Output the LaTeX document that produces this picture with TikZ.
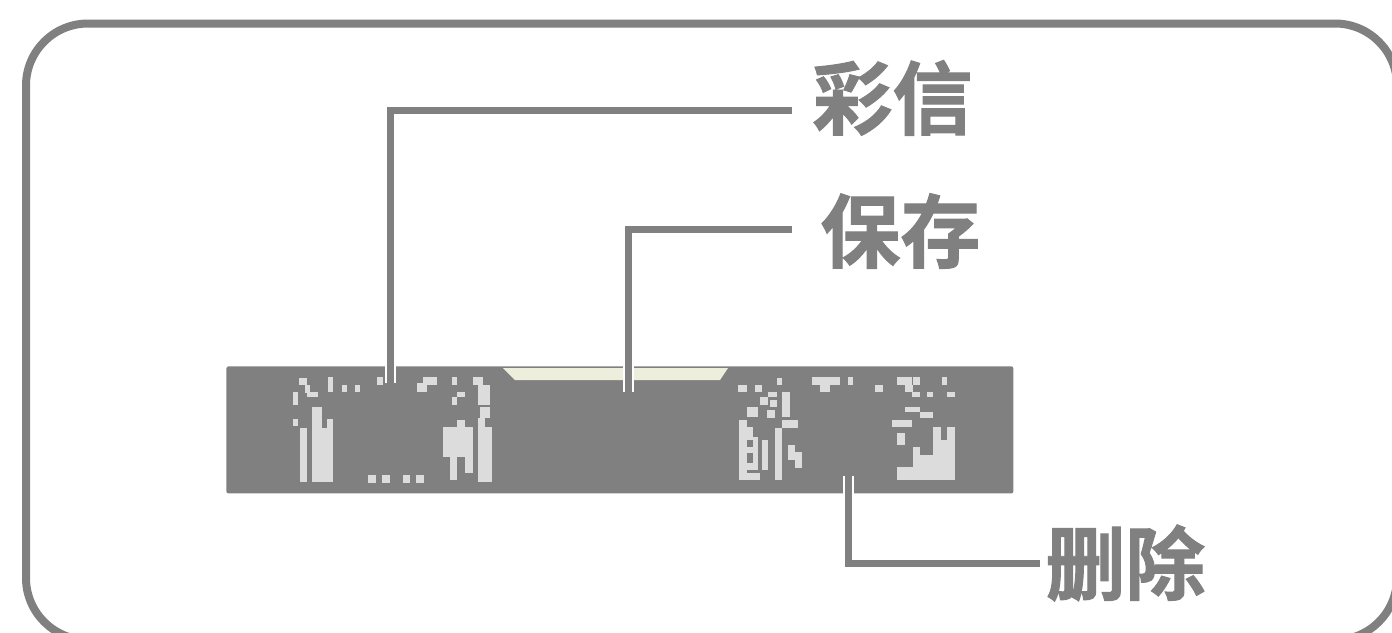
\documentclass[tikz,border=0pt]{standalone}
\usepackage{fontspec}
\newfontfamily\cjk{Noto Sans CJK SC Bold}[FakeBold=1.2]
\definecolor{lgrey}{HTML}{808080}
\definecolor{pixcol}{HTML}{DCDCDC}
\definecolor{tabcol}{HTML}{EEEEDC}
\begin{document}
\begin{tikzpicture}[x=0.5pt,y=-0.5pt,
  frame/.style={draw=lgrey,line width=4pt,rounded corners=31pt},
  screen/.style={fill=lgrey,draw=none,rounded corners=1pt},
  pix/.style={fill=pixcol,draw=none},
  halo/.style={draw=white,line width=5.5pt},
  conn/.style={draw=lgrey,line width=3.5pt},
  label/.style={font=\cjk\fontsize{40pt}{40pt}\selectfont,text=lgrey,inner sep=0pt,anchor=west}]
\useasboundingbox (0,0) rectangle (1392,632);
\begin{scope}
\clip (0,0) rectangle (1392,632);
\draw[frame] (26,23.5) rectangle (1397,640);
\end{scope}
% screen bar
\node[screen,minimum width=393.5pt,minimum height=63.5pt,inner sep=0pt,anchor=north west] (bar) at (226,366) {};
\fill[tabcol] (503,368) -- (728,368) -- (720,380) -- (515,380) -- cycle;
% pixel glyphs (left)
\foreach \a/\b/\c/\d in {
 299/378/307/385, 305/385/310/393, 307/392/318/397, 328/377/333/392,
 342/385/347/392, 355/385/360/392, 293/392/298/405, 293/419/298/426,
 300/428/307/482, 312/407/322/482, 322/428/333/482, 327/419/333/428,
 377/377/383/385, 368/475/376/483, 382/475/390/483, 403/475/410/483, 416/475/424/483,
 417/383/427/392, 423/377/437/385, 452/377/457/385, 473/377/483/385, 478/385/490/405,
 457/392/465/397, 452/397/457/405, 480/407/490/418, 478/418/485/427,
 443/427/473/457, 457/420/465/427, 450/457/457/480, 478/427/492/482, 465/437/473/473}
 {\fill[pix] (\a,\b) rectangle (\c,\d);}
% pixel glyphs (right)
\foreach \a/\b/\c/\d in {
 738/385/747/392, 755/385/762/392, 777/378/782/385,
 768/392/777/397, 760/397/768/405, 770/400/777/407, 782/392/790/417,
 747/407/758/417, 767/410/775/418,
 739/420/747/480, 747/427/753/440, 747/447/757/453, 747/463/753/470, 747/473/760/480,
 753/437/758/470, 762/440/768/470, 775/428/782/480, 782/420/798/428,
 788/445/795/460, 795/452/802/468,
 812/377/840/385, 820/385/830/392, 848/377/853/385,
 875/385/883/392, 897/377/912/385, 913/377/920/385, 905/385/913/392, 912/392/920/397,
 942/377/947/385, 927/392/933/397, 947/392/955/397,
 905/407/920/412, 920/412/933/418, 892/420/912/427, 897/433/905/445,
 933/440/955/480, 933/427/941/440, 947/427/955/440,
 897/467/955/480, 913/447/920/467, 920/455/933/467}
 {\fill[pix] (\a,\b) rectangle (\c,\d);}
% labels
\node[label] (caixin) at (812,98) {彩信};
\node[label] (baocun) at (820,231) {保存};
\node[label] (shanchu) at (1045,563) {删除};
% connector anchors
\coordinate (pa) at (390,383);
\coordinate (pb) at (628,392);
\coordinate (pc) at (848,476);
\coordinate (ea) at (792,110);
\coordinate (eb) at (792,229);
\coordinate (ec) at (1040,563);
\draw[halo] (pa) |- (ea);
\draw[halo] (pb) |- (eb);
\draw[halo] (pc) |- (ec);
\draw[conn] (pa) |- (ea);
\draw[conn] (pb) |- (eb);
\draw[conn] (pc) |- (ec);
\end{tikzpicture}
\end{document}
